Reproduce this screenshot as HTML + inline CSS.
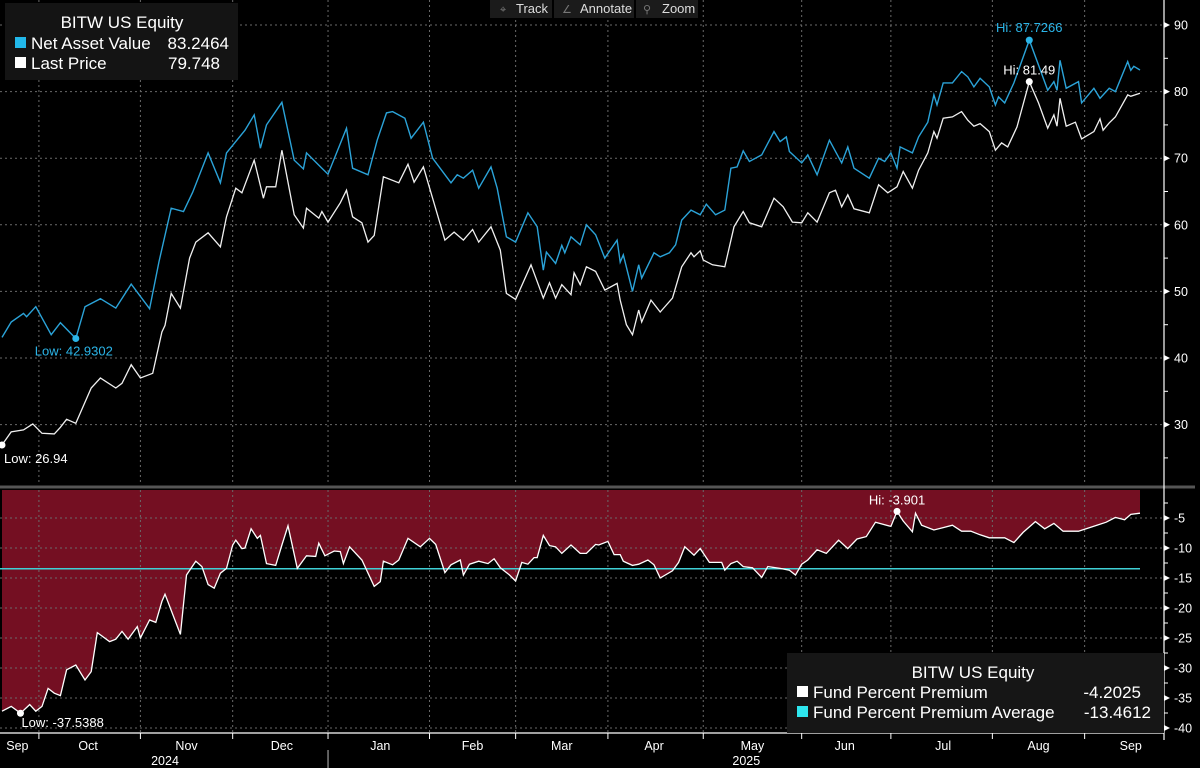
<!DOCTYPE html>
<html><head><meta charset="utf-8">
<style>
html,body{margin:0;padding:0;background:#000;}
svg{display:block;font-family:"Liberation Sans",sans-serif;}
</style></head>
<body>
<svg id="chart" width="1200" height="768" viewBox="0 0 1200 768">
  <rect x="0" y="0" width="1200" height="768" fill="#000"/>
  <g id="grid"></g>
  <g id="bottomPanel"></g>
  <g id="topPanel"></g>
  <g id="axes"></g>
</svg>
<script>
// ---- data ----
const navDays = [0,3,7,8,11,16,19,24,27,32,37,42,48,51,55,59,62,67,71,73,79,82,84,86,91,95,98,99,104,106,112,114,119,122,125,127,131,133,137,140,146,148,150,153,155,159,161,164,167,171,174,176,177,180,182,183,185,188,190,193,196,200,201,202,205,207,208,212,214,217,219,221,224,227,229,232,235,237,239,241,243,247,251,253,255,256,260,262,265,269,273,275,277,282,285,287,289,291,292,296,298,301,303,304,306,309,312,314,316,318,321,323,324,326,329,334,337,340,342,343,344,346,350,351,355,357,360,362,366,367,368,370];
const navValues = [43.1,45.4,46.7,46.2,47.7,43.5,45.3,42.9302,47.7,48.9,47.5,51.1,47.4,54.4,62.5,62,64.9,70.8,66.3,70.8,74.2,76.5,71.5,75,78.4,69.7,68.4,70.8,68.5,67.6,74.5,68.5,67.5,72.7,76.8,77,76,73,75.4,70,66.3,67.5,67,68.2,65.5,68.7,65.5,58.2,57.4,61.8,59.7,53.2,55.9,54.2,56.9,55.8,58.2,57,60,58.5,55,57.7,54.4,55.5,50,54,52,55.8,55.2,55.8,57,60.7,62.2,61.5,63.1,61.5,62.2,68.5,68.7,71.1,69.5,70.5,74,72.5,73.2,71,69.3,70.5,67.5,72.7,69.3,71.7,68.5,67,70,69.5,70.8,68.5,71.7,70.8,73.2,75.4,79.5,78,81.3,81.3,83,82.2,80.7,82,80.7,78,79.2,78.3,81.3,87.7266,84,80.2,81.5,80.2,84.7,80.5,81.5,78.3,80.5,79,80.5,80,84.5,83.2,83.8,83.25];
const priceDays = [0,3,7,10,13,17,19,21,24,29,32,37,39,42,45,49,52,53,55,58,61,63,67,71,73,76,78,82,85,86,89,91,95,98,99,103,104,106,110,112,114,117,119,121,124,129,132,134,137,140,144,147,150,153,155,159,162,164,167,172,176,178,180,182,185,186,188,190,193,196,200,201,203,205,207,208,211,214,218,221,224,225,227,228,231,235,238,241,243,247,251,254,257,260,262,265,269,271,273,275,277,282,285,288,291,293,296,298,301,303,304,306,309,312,314,316,318,321,323,325,327,330,334,337,340,342,343,344,346,349,351,355,357,358,360,362,366,367,370];
const priceValues = [26.94,28.9,29.2,30.1,28.7,28.6,29.6,30.8,30.2,35.5,37,35.5,36.2,39,37,37.7,43.9,44.9,49.7,47.5,55,57.4,58.8,56.7,61.2,65.5,64.8,69.7,64,65.7,65.7,71.2,61.5,59.5,62.5,61,62,60.4,63.3,65.2,61.2,60.3,57.4,58.4,67.2,66.3,69.1,66.4,68.7,64,57.7,58.9,57.7,59.3,57.4,59.7,56.2,49.7,48.8,54,49,51.3,49,51,49.5,52.8,51,53.7,53,50.2,51.2,48.7,45,43.5,47.2,45.4,48.7,46.9,49,53.7,55.8,55.2,56.1,54.7,54,53.7,59.7,62,60.3,59.7,64,62.7,60.4,60.3,61.8,60.4,64.8,65.2,62.7,64.5,62.4,61.8,66,64.8,65.7,68,65.5,68.2,70.8,74,73,76,76.2,77,75.7,74.8,75.2,74,71.2,72.3,71.7,74.7,81.49,78.3,74.5,76.5,74.8,79,74.8,75.4,72.9,74,75.9,74.2,75.3,76.2,79.5,79.3,79.75];
const premDays = [0,3,6,9,11,13,15,17,19,21,24,27,29,31,35,37,39,41,44,45,48,50,52,53,58,60,63,65,67,69,71,73,75,76,78,79,81,83,84,86,89,91,93,96,99,102,103,105,108,110,111,113,117,121,123,124,127,129,132,136,139,141,144,146,149,150,152,155,158,160,162,165,167,169,171,173,174,176,178,180,182,185,188,190,193,194,197,199,201,202,205,207,210,212,214,218,220,222,225,227,230,234,235,237,239,241,244,247,249,253,256,258,260,262,265,268,272,275,278,281,284,289,291,293,296,297,299,303,306,309,312,315,318,321,326,329,332,336,339,342,345,350,353,356,359,362,365,367,370];
const premValues = [-37.2,-36.4,-37.5388,-36.1,-37.2,-36.4,-33.4,-34.2,-34.6,-30.3,-29.5,-32,-30.6,-24.1,-25.6,-25.2,-23.9,-25.2,-23.1,-25,-22,-22.4,-18.9,-17.7,-24.4,-14.5,-12.2,-13.1,-16.1,-16.7,-14.2,-13.4,-9.5,-8.7,-10.1,-10,-6.8,-8.4,-7.9,-12.6,-12.9,-9.5,-6.3,-13.4,-11.3,-11.4,-9.2,-11.3,-10.5,-10.6,-12.6,-9.8,-12,-16.4,-15.6,-12.2,-12.8,-12,-8.4,-9.8,-8.4,-9.4,-14.1,-12.8,-12,-14.5,-12.7,-12.2,-12.6,-11.8,-13.3,-14.5,-15.5,-12.4,-12.7,-11.6,-11.6,-7.9,-9.6,-9.8,-10.9,-9.5,-10.9,-10.9,-9.4,-9.5,-8.9,-11.1,-11.1,-12.2,-12.9,-12.7,-12,-12.8,-15,-13.8,-12.4,-9.8,-11.2,-10.1,-12.4,-12.4,-13.7,-12.6,-12.2,-13.1,-13.3,-14.9,-13.1,-13.4,-13.7,-14.5,-12.7,-12,-10.3,-10.9,-8.7,-10.1,-8.5,-8.1,-5.7,-6.4,-3.901,-5.5,-7.3,-4.2,-6.2,-7,-6.6,-6.2,-7.2,-7.2,-7.8,-8.3,-8.3,-9.1,-7.4,-5.6,-6.8,-5.9,-7.2,-7.2,-6.7,-6.2,-5.7,-4.9,-5.3,-4.4,-4.2];
const premAverage = [-13.4612];
const topTicks = [90,80,70,60,50,40,30];
const bottomTicks = [-5,-10,-15,-20,-25,-30,-35,-40];
const monthBoundaryDays = [12,45,75,106,139,167,197,228,260,289,322,352];
const monthLabels = ["Sep","Oct","Nov","Dec","Jan","Feb","Mar","Apr","May","Jun","Jul","Aug","Sep"];
const monthCenterDays = [5,28,60,91,123,153,182,212,244,274,306,337,367];
const yearLabels = ["2024","2025"];
const yearCenterDays = [53,242];
const yearSplitDay = 106;

// ---- scales ----
const X0=2, X1=1140, D0=0, D1=370;
function xs(d){return X0+(d-D0)*(X1-X0)/(D1-D0);}
function yTop(v){return 25+(90-v)*6.66;}
function yBot(v){return 518+(-5-v)*6.0;}
const NS="http://www.w3.org/2000/svg";
function el(tag,attrs,parent){const e=document.createElementNS(NS,tag);for(const k in attrs)e.setAttribute(k,attrs[k]);parent.appendChild(e);return e;}
const gridG=document.getElementById('grid'), topG=document.getElementById('topPanel'), botG=document.getElementById('bottomPanel'), axesG=document.getElementById('axes');
const AXX=1164;
function pts(days,vals,ys){const n=Math.min(days.length,vals.length);const out=[];for(let i=0;i<n;i++)out.push(xs(days[i]).toFixed(1)+','+ys(vals[i]).toFixed(1));return out;}

{
  const p=pts(premDays,premValues,yBot);
  const n=Math.min(premDays.length,premValues.length);
  const d='M'+xs(premDays[0])+',490 L'+p.join(' L')+' L'+xs(premDays[n-1]).toFixed(1)+',490 Z';
  const f=el('path',{d:d,fill:'#740f22'},botG);
  
  
}
monthBoundaryDays.forEach(t=>{
  const l=el('line',{x1:xs(t),x2:xs(t),y1:0,y2:485,stroke:'#6a6a6a','stroke-width':1,'stroke-dasharray':'2,3'},gridG);
  
  
  const l2=el('line',{x1:xs(t),x2:xs(t),y1:490,y2:733,stroke:'#6a6a6a','stroke-width':1,'stroke-dasharray':'2,3'},axesG);
  
  
});
topTicks.forEach(v=>{
  const l=el('line',{x1:0,x2:AXX,y1:yTop(v),y2:yTop(v),stroke:'#6a6a6a','stroke-width':1,'stroke-dasharray':'2,3'},gridG);
  
  
});
bottomTicks.forEach(v=>{
  const l=el('line',{x1:0,x2:AXX,y1:yBot(v),y2:yBot(v),stroke:'#6a6a6a','stroke-width':1,'stroke-dasharray':'2,3'},axesG);
  
  
});
{
  const l=el('line',{x1:0,x2:xs(370),y1:yBot(premAverage[0]),y2:yBot(premAverage[0]),stroke:'#3fd0d6','stroke-width':1.5},axesG);
  
  
}
{
  const p=el('polyline',{points:pts(premDays,premValues,yBot).join(' '),fill:'none',stroke:'#fff','stroke-width':1.3},axesG);
  
  
}
{
  const p=el('polyline',{points:pts(navDays,navValues,yTop).join(' '),fill:'none',stroke:'#2ba3d8','stroke-width':1.4},topG);
  
  
  const q=el('polyline',{points:pts(priceDays,priceValues,yTop).join(' '),fill:'none',stroke:'#f0f0f0','stroke-width':1.3},topG);
  
  
}
function marker(days,vals,ys,fn,color,label,lx,ly,anchor,name){
  const n=Math.min(days.length,vals.length);
  const v=vals.slice(0,n);
  const i=v.indexOf(fn(...v));
  const cx=xs(days[i]), cy=ys(v[i]);
  const c=el('circle',{cx:cx,cy:cy,r:3.5,fill:color},axesG);
  
  
  const t=el('text',{x:cx+lx,y:cy+ly,fill:color,'font-size':13,'text-anchor':anchor},axesG);
  t.textContent=label+v[i];
  
  
}
marker(navDays,navValues,yTop,Math.min,'#2bb5e8','Low: ',-2,17,'middle','nav-low');
marker(priceDays,priceValues,yTop,Math.min,'#ffffff','Low: ',2,18,'start','price-low');
marker(navDays,navValues,yTop,Math.max,'#2bb5e8','Hi: ',0,-8,'middle','nav-high');
marker(priceDays,priceValues,yTop,Math.max,'#ffffff','Hi: ',0,-7,'middle','price-high');
marker(premDays,premValues,yBot,Math.min,'#ffffff','Low: ',1,14,'start','premium-low');
marker(premDays,premValues,yBot,Math.max,'#ffffff','Hi: ',0,-7,'middle','premium-high');

{const r=el('rect',{x:0,y:485.5,width:1195,height:3,fill:'#555'},axesG);

}
{const l=el('line',{x1:AXX,x2:AXX,y1:0,y2:740,stroke:'#fff','stroke-width':1.2},axesG);

}
function ytick(y,label,name){
  const p=el('path',{d:`M${AXX},${y-3} L${AXX+6},${y} L${AXX},${y+3} Z`,fill:'#fff'},axesG);
  
  
  const t=el('text',{x:AXX+10,y:y+4.5,fill:'#fff','font-size':12.5},axesG);
  t.textContent=label;
  
  
}
topTicks.forEach(v=>{
  ytick(yTop(v),String(v),'top-y-axis');
  const m=el('line',{x1:AXX,x2:AXX+4,y1:yTop(v-5),y2:yTop(v-5),stroke:'#fff'},axesG);
  
  
});
bottomTicks.forEach(v=>{
  ytick(yBot(v),String(v),'bottom-y-axis');
  const m=el('line',{x1:AXX,x2:AXX+4,y1:yBot(v+2.5),y2:yBot(v+2.5),stroke:'#fff'},axesG);
  
  
});
{const l=el('line',{x1:0,x2:AXX,y1:733,y2:733,stroke:'#fff','stroke-width':1.2},axesG);

}
monthBoundaryDays.forEach(t=>{
  const l=el('line',{x1:xs(t),x2:xs(t),y1:733,y2:739,stroke:'#fff'},axesG);
  
  
});
monthLabels.forEach((m,i)=>{
  const t=el('text',{x:xs(monthCenterDays[i]),y:750,fill:'#fff','font-size':12.5,'text-anchor':'middle'},axesG);
  t.textContent=m;
  
  
});
yearLabels.forEach((m,i)=>{
  const t=el('text',{x:xs(yearCenterDays[i]),y:765,fill:'#fff','font-size':12.5,'text-anchor':'middle'},axesG);
  t.textContent=m;
  
  
});
{const l=el('line',{x1:xs(yearSplitDay),x2:xs(yearSplitDay),y1:750,y2:768,stroke:'#bbb'},axesG);

}
</script>
<svg width="1200" height="768" style="position:absolute;left:0;top:0;" font-family="Liberation Sans, sans-serif">
  <g>
    <rect x="5" y="3" width="233" height="77" fill="#141414"/>
    <text x="122" y="28" fill="#fff" font-size="17" text-anchor="middle">BITW US Equity</text>
    <rect x="15" y="37" width="11" height="11" fill="#22b8ea"/>
    <text x="31" y="49" fill="#fff" font-size="17">Net Asset Value</text>
    <text x="229" y="49" fill="#fff" font-size="17" text-anchor="end">83.2464</text>
    <rect x="15" y="57" width="11" height="11" fill="#fff"/>
    <text x="31" y="69" fill="#fff" font-size="17">Last Price</text>
    <text x="220" y="69" fill="#fff" font-size="17" text-anchor="end">79.748</text>
  </g>
  <g>
    <rect x="490" y="0" width="62" height="18" fill="#1b1b1b"/>
    <text x="500" y="13" fill="#777" font-size="11">⌖</text>
    <text x="516" y="13" fill="#ddd" font-size="13">Track</text>
    <rect x="554" y="0" width="80" height="18" fill="#1b1b1b"/>
    <text x="562" y="13" fill="#777" font-size="11">∠</text>
    <text x="580" y="13" fill="#ddd" font-size="13">Annotate</text>
    <rect x="636" y="0" width="62" height="18" fill="#1b1b1b"/>
    <text x="643" y="13" fill="#777" font-size="11">⚲</text>
    <text x="662" y="13" fill="#ddd" font-size="13">Zoom</text>
  </g>
  <g>
    <rect x="787" y="653" width="377" height="80" fill="#161616"/>
    <text x="973" y="678" fill="#fff" font-size="17" text-anchor="middle">BITW US Equity</text>
    <rect x="797" y="686" width="11" height="11" fill="#fff"/>
    <text x="813" y="698" fill="#fff" font-size="17">Fund Percent Premium</text>
    <text x="1141" y="698" fill="#fff" font-size="17" text-anchor="end">-4.2025</text>
    <rect x="797" y="706" width="11" height="11" fill="#2ee6ee"/>
    <text x="813" y="718" fill="#fff" font-size="17">Fund Percent Premium Average</text>
    <text x="1151" y="718" fill="#fff" font-size="17" text-anchor="end">-13.4612</text>
  </g>
</svg>
</body></html>
